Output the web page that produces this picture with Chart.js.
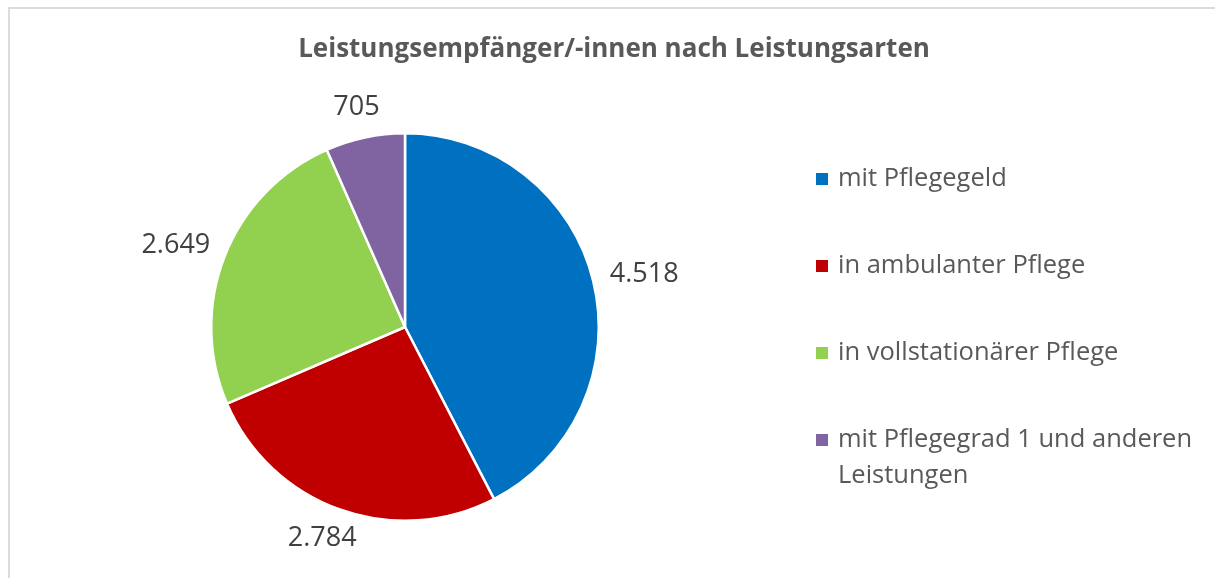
<!DOCTYPE html>
<html>
<head>
<meta charset="utf-8">
<script src="https://cdn.jsdelivr.net/npm/chart.js@4.4.1/dist/chart.umd.min.js"></script>
<style>
  html, body { margin: 0; padding: 0; background: #ffffff; overflow: hidden; }
  #frame { position: absolute; left: 8px; top: 7px; width: 1400px; height: 800px; border-left: 2px solid #dcdcdc; border-top: 2px solid #dcdcdc; }
  #c { position: absolute; left: 0; top: 0; }
</style>
</head>
<body>
<div id="frame"></div>
<canvas id="c" width="1215" height="578"></canvas>
<script>
const chartTitle = 'Leistungsempfänger/-innen nach Leistungsarten';
const categories = ['mit Pflegegeld', 'in ambulanter Pflege', 'in vollstationärer Pflege', 'mit Pflegegrad 1 und anderen Leistungen'];
const legendLines = [['mit Pflegegeld'], ['in ambulanter Pflege'], ['in vollstationärer Pflege'], ['mit Pflegegrad 1 und anderen', 'Leistungen']];
const values = [4518, 2784, 2649, 705];
const valueLabels = ['4.518', '2.784', '2.649', '705'];
const colors = ['#0070C0', '#C00000', '#92D050', '#8064A2'];

const FONT = '"Open Sans", Lato, sans-serif';

const textPlugin = {
  id: 'textPlugin',
  afterDraw(chart) {
    const ctx = chart.ctx;
    ctx.save();
    // title
    ctx.fillStyle = '#595959';
    ctx.font = 'bold 26px ' + FONT;
    ctx.textAlign = 'center';
    ctx.textBaseline = 'alphabetic';
    ctx.fillText(chartTitle, 614, 57);

    // data labels (outside end)
    const meta = chart.getDatasetMeta(0);
    ctx.font = '27px ' + FONT;
    ctx.fillStyle = '#404040';
    ctx.textAlign = 'center';
    ctx.textBaseline = 'middle';
    meta.data.forEach((arc, i) => {
      const p = arc.getProps(['x', 'y', 'startAngle', 'endAngle', 'outerRadius'], true);
      const mid = (p.startAngle + p.endAngle) / 2;
      const c = Math.cos(mid), s = Math.sin(mid);
      const w = ctx.measureText(valueLabels[i]).width;
      const h = 26;
      const r = p.outerRadius + 18;
      const x = p.x + r * c + (w / 2) * c;
      const y = p.y + r * s + (h / 2) * s;
      ctx.fillText(valueLabels[i], x, y);
    });

    // legend
    ctx.font = '25.5px ' + FONT;
    ctx.textAlign = 'left';
    ctx.textBaseline = 'middle';
    let y = 179;
    legendLines.forEach((lines, i) => {
      ctx.fillStyle = colors[i];
      ctx.fillRect(816, y - 6, 12, 12);
      ctx.fillStyle = '#595959';
      lines.forEach((ln, j) => {
        ctx.fillText(ln, 838, y + j * 36);
      });
      y += 87;
    });
    ctx.restore();
  }
};

new Chart(document.getElementById('c'), {
  type: 'pie',
  data: {
    labels: categories,
    datasets: [{
      data: values,
      backgroundColor: colors,
      borderColor: '#ffffff',
      borderWidth: 2.5,
      hoverOffset: 0
    }]
  },
  options: {
    responsive: false,
    animation: false,
    events: [],
    layout: { padding: { left: 210, right: 615, top: 132, bottom: 56 } },
    plugins: {
      legend: { display: false },
      title: { display: false },
      tooltip: { enabled: false }
    }
  },
  plugins: [textPlugin]
});
</script>
</body>
</html>
